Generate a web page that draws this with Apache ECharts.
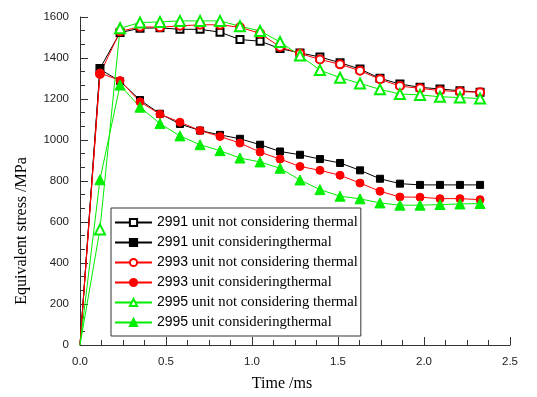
<!DOCTYPE html>
<html>
<head>
<meta charset="utf-8">
<script src="https://cdn.jsdelivr.net/npm/echarts@6/dist/echarts.min.js"></script>
<style>
  html, body { margin: 0; padding: 0; background: #fff; }
  #chart { width: 537px; height: 397px; }
</style>
</head>
<body>
<div id="chart"></div>
<script>
// time points (ms)
const times = [0, 0.116, 0.233, 0.349, 0.465, 0.581, 0.698, 0.814, 0.930, 1.047, 1.163,
  1.279, 1.395, 1.512, 1.628, 1.744, 1.860, 1.977, 2.093, 2.209, 2.326];

// equivalent stress (MPa)
const s2991Not = [0, 1349, 1524, 1545, 1547, 1540, 1540, 1526, 1490, 1482, 1446, 1425, 1405, 1377, 1346, 1301, 1273, 1257, 1249, 1240, 1233];
const s2991Yes = [0, 1345, 1287, 1195, 1128, 1078, 1046, 1025, 1006, 977, 944, 928, 907, 888, 852, 811, 787, 781, 781, 781, 781];
const s2993Not = [0, 1322, 1530, 1552, 1550, 1557, 1562, 1562, 1550, 1520, 1454, 1422, 1393, 1369, 1338, 1296, 1263, 1252, 1241, 1236, 1233];
const s2993Yes = [0, 1327, 1290, 1186, 1126, 1087, 1046, 1017, 985, 941, 907, 871, 852, 828, 790, 750, 722, 721, 714, 714, 709];
const s2995Not = [0, 564, 1545, 1573, 1576, 1581, 1581, 1581, 1555, 1532, 1478, 1412, 1341, 1304, 1276, 1247, 1224, 1220, 1211, 1207, 1202];
const s2995Yes = [0, 806, 1268, 1160, 1080, 1020, 977, 948, 912, 893, 862, 805, 758, 726, 713, 693, 682, 682, 685, 688, 690];

const seriesNames = [
  "2991 unit not considering thermal",
  "2991 unit consideringthermal",
  "2993 unit not considering thermal",
  "2993 unit consideringthermal",
  "2995 unit not considering thermal",
  "2995 unit consideringthermal",
];

const chart = echarts.init(document.getElementById("chart"));

// builds one line series from a value array
function makeSeries(name, values, color, symbol, size) {
  return {
    name: name,
    type: "line",
    data: values.map((v, i) =>
      i === 0 ? { value: [times[i], v], symbol: "none" } : [times[i], v]
    ),
    symbol: symbol,
    symbolSize: size,
    showSymbol: true,
    clip: false,
    lineStyle: { color: color, width: 1 },
    itemStyle: { color: color, borderColor: color, borderWidth: 1 },
    emphasis: { disabled: true },
  };
}

const option = {
  animation: false,
  backgroundColor: "#fff",
  grid: { left: 80, right: 27, top: 17, bottom: 51 },
  legend: {
    orient: "vertical",
    left: 111,
    top: 208,
    padding: [7, 3, 6, 3],
    itemWidth: 37,
    itemHeight: 9,
    itemGap: 5,
    borderColor: "#333",
    borderWidth: 1,
    data: seriesNames,
    formatter: (name) => {
      const k = name.indexOf(" ");
      return "{n|" + name.slice(0, k) + "}{t|" + name.slice(k) + "}";
    },
    textStyle: {
      color: "#000",
      rich: {
        n: { fontFamily: "Liberation Sans", fontSize: 14, color: "#000" },
        t: { fontFamily: "Liberation Serif", fontSize: 14.7, color: "#000" },
      },
    },
  },
  xAxis: {
    type: "value",
    min: 0,
    max: 2.5,
    interval: 0.5,
    name: "Time /ms",
    nameLocation: "middle",
    nameGap: 31,
    nameTextStyle: {
      fontFamily: "Liberation Serif",
      fontSize: 16,
      color: "#000",
      padding: [0, 26, 0, 0],
    },
    axisLine: { lineStyle: { color: "#333", width: 1 } },
    axisTick: { inside: true, length: 8, lineStyle: { color: "#333" } },
    minorTick: { show: true, splitNumber: 4, length: 5, lineStyle: { color: "#333" } },
    splitLine: { show: false },
    axisLabel: {
      margin: 11,
      fontFamily: "Liberation Sans",
      fontSize: 11.5,
      color: "#222",
      formatter: (v) => v.toFixed(1),
    },
  },
  yAxis: {
    type: "value",
    min: 0,
    max: 1600,
    interval: 200,
    name: "Equivalent stress /MPa",
    nameLocation: "middle",
    nameGap: 50,
    nameTextStyle: {
      fontFamily: "Liberation Serif",
      fontSize: 16,
      color: "#000",
      padding: [0, 100, 0, 0],
    },
    axisLine: { show: true, lineStyle: { color: "#333", width: 1 } },
    axisTick: { show: true, inside: true, length: 8, lineStyle: { color: "#333" } },
    minorTick: { show: true, splitNumber: 3, length: 5, lineStyle: { color: "#333" } },
    splitLine: { show: false },
    axisLabel: {
      margin: 11,
      fontFamily: "Liberation Sans",
      fontSize: 11.5,
      color: "#222",
      formatter: (v) => String(v),
    },
  },
  series: [
    makeSeries(seriesNames[0], s2991Not, "#000000", "emptyRect", 7),
    makeSeries(seriesNames[1], s2991Yes, "#000000", "rect", 7),
    makeSeries(seriesNames[2], s2993Not, "#ff0000", "emptyCircle", 8),
    makeSeries(seriesNames[3], s2993Yes, "#ff0000", "circle", 8),
    makeSeries(seriesNames[4], s2995Not, "#00ee00", "emptyTriangle", 10),
    makeSeries(seriesNames[5], s2995Yes, "#00ee00", "triangle", 10),
  ],
};

chart.setOption(option);
</script>
</body>
</html>
